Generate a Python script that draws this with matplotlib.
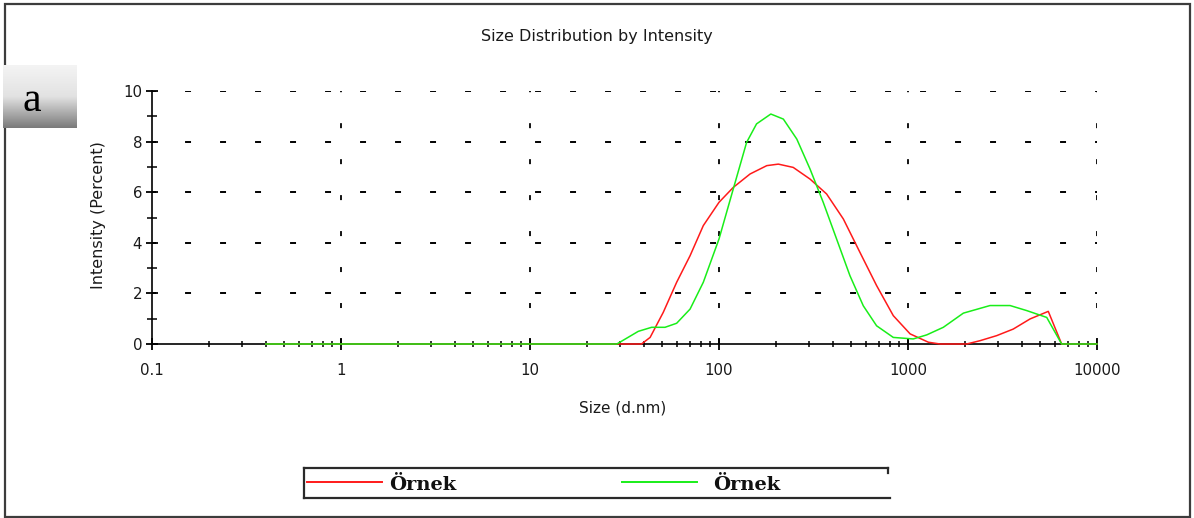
import numpy as np
import matplotlib
matplotlib.use("Agg")
import matplotlib.pyplot as plt
from matplotlib.patches import Rectangle
from matplotlib.lines import Line2D
from matplotlib.colors import LinearSegmentedColormap

# ---- data -------------------------------------------------------------
red_size = [0.4, 28.8, 38.9, 43.2, 50.7, 59.7, 70.3, 82.6, 100, 119, 146, 179,
            206, 247, 303, 371, 455, 557, 682, 836, 1026, 1282, 1477, 2044,
            2403, 2945, 3604, 4423, 5524, 6500, 10000]
red_int = [0, 0, 0, 0.26, 1.25, 2.44, 3.49, 4.68, 5.6, 6.19, 6.72, 7.05,
           7.11, 6.98, 6.52, 5.93, 4.94, 3.62, 2.31, 1.12, 0.4, 0.07, 0, 0,
           0.13, 0.33, 0.59, 0.99, 1.29, 0, 0]

green_size = [0.4, 28.8, 37.4, 44, 51.8, 59.7, 70.3, 82.6, 100, 119, 140, 158,
              188, 219, 258, 303, 356, 419, 493, 580, 682, 836, 1066, 1256,
              1538, 1963, 2716, 3467, 4250, 5420, 6500, 10000]
green_int = [0, 0, 0.5, 0.66, 0.66, 0.82, 1.38, 2.44, 4.15, 6.13, 7.97, 8.7,
             9.09, 8.89, 8.1, 6.92, 5.6, 4.15, 2.7, 1.51, 0.72, 0.26, 0.2, 0.36,
             0.66, 1.22, 1.52, 1.52, 1.32, 1.05, 0, 0]

x_ticks = [0.1, 1, 10, 100, 1000, 10000]
x_tick_labels = ["0.1", "1", "10", "100", "1000", "10000"]
y_ticks = [0, 2, 4, 6, 8, 10]
y_tick_labels = ["0", "2", "4", "6", "8", "10"]

title = "Size Distribution by Intensity"
x_label = "Size (d.nm)"
y_label = "Intensity (Percent)"
legend_labels = ["Örnek", "Örnek"]
panel_tag = "a"

RED = "#ff1a1a"
GREEN = "#19ee19"

# ---- figure -----------------------------------------------------------
W, H = 1194, 518
plt.rcParams["lines.scale_dashes"] = False
fig = plt.figure(figsize=(W / 100, H / 100), dpi=100)
fig.patch.set_facecolor("white")


def fx(px):
    return px / W


def fy(py):
    return 1 - py / H


# outer frame
fig.add_artist(Rectangle((fx(5), fy(517)), fx(1190) - fx(5), fy(4) - fy(517),
                         transform=fig.transFigure, fill=False,
                         edgecolor="#3c3c3c", linewidth=1.6, zorder=0))

# main axes
ax = fig.add_axes([fx(152), fy(344), fx(1097) - fx(152), fy(91) - fy(344)])
ax.set_xscale("log")
ax.set_xlim(0.1, 10000)
ax.set_ylim(0, 10)

ax.plot(red_size, red_int, color=RED, lw=1.1, zorder=4, clip_on=False)
ax.plot(green_size, green_int, color=GREEN, lw=1.1, zorder=5, clip_on=False)

# dashed grid
for yv in y_ticks[1:]:
    ax.axhline(yv, color="black", lw=1.4, linestyle=(1.4, (4.3, 20.9)), zorder=1)
for xv in x_ticks[1:]:
    ax.axvline(xv, color="black", lw=1.3, linestyle=(0.0, (3.6, 22.3)), zorder=1)

for side in ("top", "right"):
    ax.spines[side].set_visible(False)
for side in ("left", "bottom"):
    ax.spines[side].set_linewidth(1.2)
    ax.spines[side].set_color("black")
    ax.spines[side].set_zorder(3)

ax.set_xticks(x_ticks)
ax.set_xticklabels(x_tick_labels)
ax.set_yticks(y_ticks)
ax.set_yticklabels(y_tick_labels)
ax.set_yticks([1, 3, 5, 7, 9], minor=True)
ax.xaxis.set_minor_locator(matplotlib.ticker.LogLocator(base=10, subs=np.arange(2, 10)))
ax.xaxis.set_minor_formatter(matplotlib.ticker.NullFormatter())

ax.tick_params(axis="x", which="major", direction="inout", length=8, width=1.3,
               pad=10, labelsize=10.8, labelcolor="#1a1a1a")
ax.tick_params(axis="x", which="minor", direction="inout", length=4, width=1.1)
ax.tick_params(axis="y", which="major", direction="inout", length=8, width=1.3,
               pad=3, labelsize=10.8, labelcolor="#1a1a1a")
ax.tick_params(axis="y", which="minor", direction="inout", length=7, width=1.1)

ax.set_facecolor("none")

fig.text(fx(597), fy(37), title, ha="center", va="center", fontsize=11.5,
         family="DejaVu Sans", color="#1a1a1a")
fig.text(fx(623), fy(408), x_label, ha="center", va="center", fontsize=11,
         family="DejaVu Sans", color="#1a1a1a")
fig.text(fx(98), fy(215), y_label, ha="center", va="center", fontsize=11.5,
         rotation=90, family="DejaVu Sans", color="#1a1a1a")

# panel tag with grey gradient
tag_ax = fig.add_axes([fx(3), fy(128), fx(77) - fx(3), fy(65) - fy(128)])
grad = np.linspace(0, 1, 256).reshape(-1, 1)
cmap = LinearSegmentedColormap.from_list("tag", ["#f4f4f4", "#e2e2e2", "#7a7a7a"])
tag_ax.imshow(grad, aspect="auto", cmap=cmap, extent=(0, 1, 0, 1), origin="upper")
tag_ax.set_axis_off()
fig.text(fx(32), fy(101), panel_tag, ha="center", va="center", fontsize=30,
         family="Liberation Serif", color="black")

# legend strip
lc = "#2a2a2a"
fig.add_artist(Line2D([fx(304), fx(888)], [fy(468), fy(468)], color=lc, lw=1.6,
                      transform=fig.transFigure))
fig.add_artist(Line2D([fx(304), fx(890)], [fy(498), fy(498)], color=lc, lw=1.6,
                      transform=fig.transFigure))
fig.add_artist(Line2D([fx(304), fx(304)], [fy(468), fy(498)], color=lc, lw=1.6,
                      transform=fig.transFigure))
fig.add_artist(Line2D([fx(888), fx(888)], [fy(468), fy(473)], color=lc, lw=1.6,
                      transform=fig.transFigure))

fig.add_artist(Line2D([fx(307), fx(382)], [fy(482), fy(482)], color=RED, lw=1.4,
                      transform=fig.transFigure))
fig.add_artist(Line2D([fx(622), fx(697)], [fy(482), fy(482)], color=GREEN, lw=1.4,
                      transform=fig.transFigure))
fig.text(fx(389), fy(490), legend_labels[0], ha="left", va="baseline", fontsize=14,
         family="DejaVu Serif", weight="bold", color="#111111")
fig.text(fx(713), fy(490), legend_labels[1], ha="left", va="baseline", fontsize=14,
         family="DejaVu Serif", weight="bold", color="#111111")

fig.savefig("out.png", dpi=100)
